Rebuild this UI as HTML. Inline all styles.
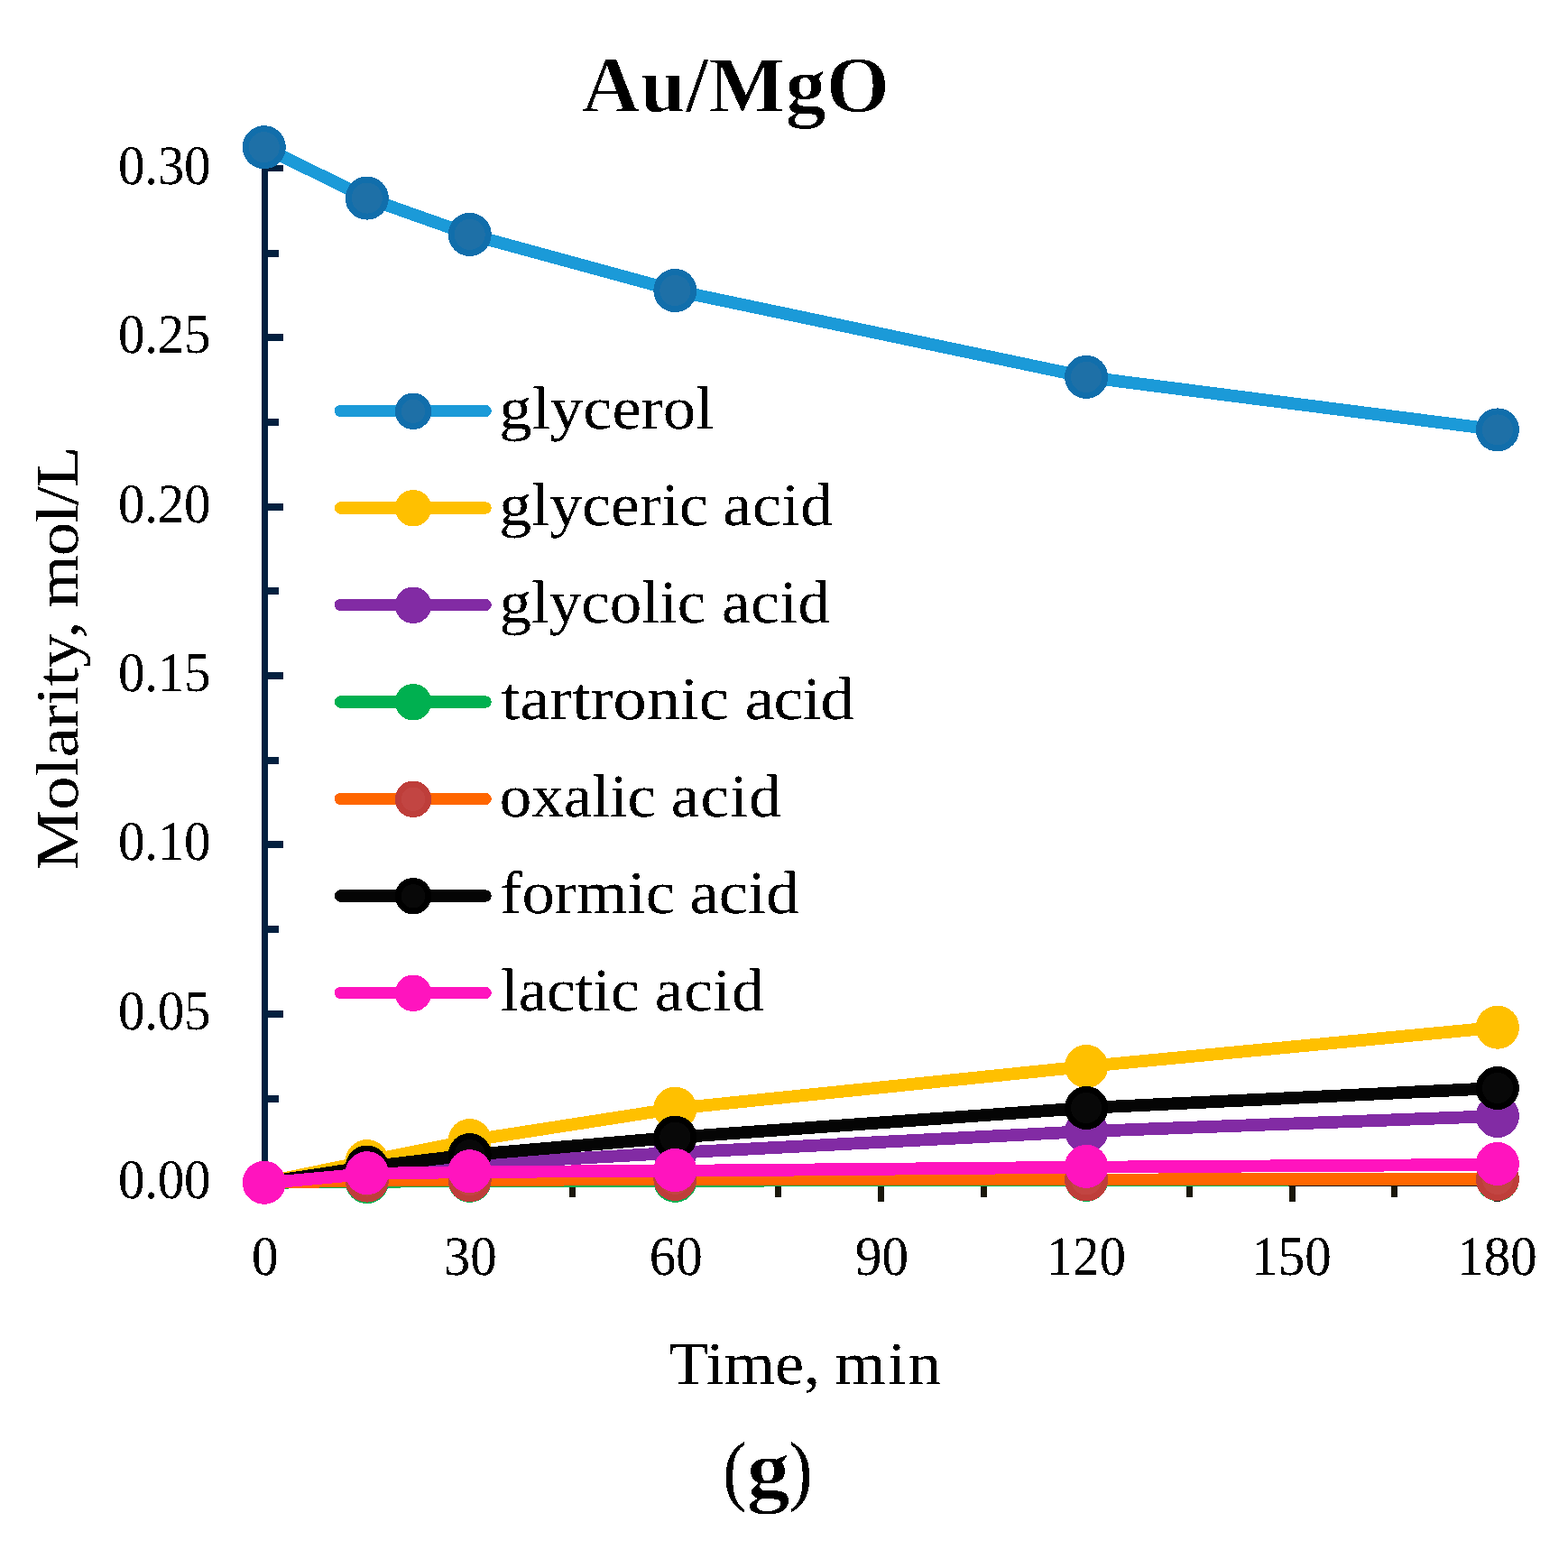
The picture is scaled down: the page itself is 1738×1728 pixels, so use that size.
<!DOCTYPE html>
<html lang="en"><head><meta charset="utf-8"><title>Au/MgO</title>
<style>html,body{margin:0;padding:0;background:#fff;overflow:hidden}svg{display:block}text{font-family:'Liberation Serif', serif;fill:#000;text-rendering:geometricPrecision}</style>
</head><body>
<svg width="1738" height="1728" viewBox="0 0 1738 1728">
<rect width="1738" height="1728" fill="#fff"/>
<defs><filter id="bin" x="0" y="0" width="1738" height="1728" filterUnits="userSpaceOnUse" color-interpolation-filters="sRGB"><feComponentTransfer><feFuncR type="discrete" tableValues="0 0 0 0 0 0 0 0 0 0 0 1 1 1 1 1 1 1 1 1"/><feFuncG type="discrete" tableValues="0 0 0 0 0 0 0 0 0 0 0 1 1 1 1 1 1 1 1 1"/><feFuncB type="discrete" tableValues="0 0 0 0 0 0 0 0 0 0 0 1 1 1 1 1 1 1 1 1"/></feComponentTransfer></filter></defs>
<g id="labels" filter="url(#bin)">
<rect width="1738" height="1728" fill="#fff"/>
<g id="legend-labels">
<text transform="translate(0.00 475.00) scale(0.7266 0.6713)" font-size="100" xml:space="preserve"><tspan x="761.51">glycerol</tspan></text>
<text transform="translate(0.00 582.00) scale(0.7187 0.6713)" font-size="100" xml:space="preserve"><tspan x="769.96">glyceric </tspan><tspan x="1114.96" letter-spacing="1.046">acid</tspan></text>
<text transform="translate(0.00 690.00) scale(0.7104 0.6713)" font-size="100" xml:space="preserve"><tspan x="778.97">glycolic </tspan><tspan x="1126.28" letter-spacing="0.794">acid</tspan></text>
<text transform="translate(0.00 797.00) scale(0.7444 0.6713)" font-size="100" xml:space="preserve"><tspan x="746.41">tartronic </tspan><tspan x="1109.02" letter-spacing="-1.304">acid</tspan></text>
<text transform="translate(0.00 905.00) scale(0.7095 0.6713)" font-size="100" xml:space="preserve"><tspan x="780.49">oxalic </tspan><tspan x="1048.41" letter-spacing="1.711">acid</tspan></text>
<text transform="translate(0.00 1012.00) scale(0.7271 0.6713)" font-size="100" xml:space="preserve"><tspan x="762.27">formic </tspan><tspan x="1051.57" letter-spacing="-0.093">acid</tspan></text>
<text transform="translate(0.00 1120.00) scale(0.7087 0.6713)" font-size="100" xml:space="preserve"><tspan x="783.05">lactic </tspan><tspan x="1024.23" letter-spacing="1.298">acid</tspan></text>
</g>
<text transform="translate(0.00 124.00) scale(0.9035 0.8873)" font-size="100" font-weight="bold" stroke="#fff" stroke-width="1.35" xml:space="preserve"><tspan x="713.45">Au/MgO</tspan></text>
<g id="ytick-labels">
<text transform="translate(0.00 204.00) scale(0.5899 0.6176)" font-size="100" xml:space="preserve"><tspan x="222.07" letter-spacing="-0.452">0.30</tspan></text>
<text transform="translate(0.00 391.00) scale(0.5899 0.6176)" font-size="100" xml:space="preserve"><tspan x="222.07" letter-spacing="-0.369">0.25</tspan></text>
<text transform="translate(0.00 579.00) scale(0.5899 0.6176)" font-size="100" xml:space="preserve"><tspan x="222.07" letter-spacing="-0.452">0.20</tspan></text>
<text transform="translate(0.00 766.00) scale(0.5899 0.6176)" font-size="100" xml:space="preserve"><tspan x="222.07" letter-spacing="-0.369">0.15</tspan></text>
<text transform="translate(0.00 953.00) scale(0.5899 0.6176)" font-size="100" xml:space="preserve"><tspan x="222.07" letter-spacing="-0.452">0.10</tspan></text>
<text transform="translate(0.00 1141.00) scale(0.5899 0.6176)" font-size="100" xml:space="preserve"><tspan x="222.07" letter-spacing="-0.369">0.05</tspan></text>
<text transform="translate(0.00 1328.00) scale(0.5899 0.6176)" font-size="100" xml:space="preserve"><tspan x="222.07" letter-spacing="-0.452">0.00</tspan></text>
</g>
<g id="xtick-labels">
<text transform="translate(0.00 1413.00) scale(0.5899 0.6176)" font-size="100" xml:space="preserve"><tspan x="472.92">0</tspan></text>
<text transform="translate(0.00 1413.00) scale(0.5899 0.6176)" font-size="100" xml:space="preserve"><tspan x="833.70">30</tspan></text>
<text transform="translate(0.00 1413.00) scale(0.5899 0.6176)" font-size="100" xml:space="preserve"><tspan x="1220.24">60</tspan></text>
<text transform="translate(0.00 1413.00) scale(0.5899 0.6176)" font-size="100" xml:space="preserve"><tspan x="1607.02">90</tspan></text>
<text transform="translate(0.00 1413.00) scale(0.5899 0.6176)" font-size="100" xml:space="preserve"><tspan x="1965.55">120</tspan></text>
<text transform="translate(0.00 1413.00) scale(0.5899 0.6176)" font-size="100" xml:space="preserve"><tspan x="2351.83">150</tspan></text>
<text transform="translate(0.00 1413.00) scale(0.5899 0.6176)" font-size="100" xml:space="preserve"><tspan x="2738.12">180</tspan></text>
</g>
<text transform="translate(0.00 1534.00) scale(0.7225 0.6686)" font-size="100" xml:space="preserve"><tspan x="1025.80">Time, </tspan><tspan x="1281.05" letter-spacing="3.447">min</tspan></text>
<text transform="translate(86.00 1000.00) rotate(-90) scale(0.7482 0.6672)" font-size="100" xml:space="preserve"><tspan x="47.79">Molarity, </tspan><tspan x="436.50" letter-spacing="-1.355">mol/L</tspan></text>
<g id="panel-label">
<text transform="translate(801.34 1658) scale(0.7922 0.8652)" font-size="100">(</text>
<text transform="translate(827.77 1659) scale(0.9557 0.9149)" font-size="100" font-weight="bold" stroke="#fff" stroke-width="1.31">g</text>
<text transform="translate(874.13 1658) scale(0.7922 0.8652)" font-size="100">)</text>
</g>
</g>
<g id="axes" shape-rendering="crispEdges">
<rect x="290" y="1308" width="1373" height="7" fill="#1A170B"/>
<rect x="289" y="1315" width="7" height="17" fill="#1A170B"/>
<rect x="403" y="1315" width="7" height="12" fill="#1A170B"/>
<rect x="517" y="1315" width="7" height="17" fill="#1A170B"/>
<rect x="631" y="1315" width="7" height="12" fill="#1A170B"/>
<rect x="745" y="1315" width="7" height="17" fill="#1A170B"/>
<rect x="859" y="1315" width="7" height="12" fill="#1A170B"/>
<rect x="973" y="1315" width="7" height="17" fill="#1A170B"/>
<rect x="1087" y="1315" width="7" height="12" fill="#1A170B"/>
<rect x="1201" y="1315" width="7" height="17" fill="#1A170B"/>
<rect x="1315" y="1315" width="7" height="12" fill="#1A170B"/>
<rect x="1429" y="1315" width="7" height="17" fill="#1A170B"/>
<rect x="1542" y="1315" width="7" height="12" fill="#1A170B"/>
<rect x="1656" y="1315" width="7" height="17" fill="#1A170B"/>
<rect x="290" y="183" width="7" height="1132" fill="#03203F"/>
<rect x="297" y="1307" width="17" height="8" fill="#03203F"/>
<rect x="297" y="1214" width="12" height="8" fill="#03203F"/>
<rect x="297" y="1120" width="17" height="8" fill="#03203F"/>
<rect x="297" y="1026" width="12" height="8" fill="#03203F"/>
<rect x="297" y="932" width="17" height="8" fill="#03203F"/>
<rect x="297" y="839" width="12" height="8" fill="#03203F"/>
<rect x="297" y="745" width="17" height="8" fill="#03203F"/>
<rect x="297" y="651" width="12" height="8" fill="#03203F"/>
<rect x="297" y="558" width="17" height="8" fill="#03203F"/>
<rect x="297" y="464" width="12" height="8" fill="#03203F"/>
<rect x="297" y="370" width="17" height="8" fill="#03203F"/>
<rect x="297" y="277" width="12" height="8" fill="#03203F"/>
<rect x="297" y="183" width="17" height="7" fill="#03203F"/>
</g>
<g id="series" fill="none" stroke-linejoin="round" stroke-linecap="round" shape-rendering="crispEdges">
<polyline points="292.8,163.2 406.8,219.6 520.7,259.9 748.3,322.0 1204.1,417.9 1659.9,476.4" stroke="#1B9AD8" stroke-width="13.8"/>
<circle cx="292.8" cy="163.2" r="20.50" fill="#1E70A7" stroke="#116EAB" stroke-width="7.0"/>
<circle cx="406.8" cy="219.6" r="20.50" fill="#1E70A7" stroke="#116EAB" stroke-width="7.0"/>
<circle cx="520.7" cy="259.9" r="20.50" fill="#1E70A7" stroke="#116EAB" stroke-width="7.0"/>
<circle cx="748.3" cy="322.0" r="20.50" fill="#1E70A7" stroke="#116EAB" stroke-width="7.0"/>
<circle cx="1204.1" cy="417.9" r="20.50" fill="#1E70A7" stroke="#116EAB" stroke-width="7.0"/>
<circle cx="1659.9" cy="476.4" r="20.50" fill="#1E70A7" stroke="#116EAB" stroke-width="7.0"/>
<polyline points="292.8,1310.8 406.8,1287.1 520.7,1264.1 748.3,1228.7 1204.1,1182.0 1659.9,1138.7" stroke="#FFC000" stroke-width="13.8"/>
<circle cx="292.8" cy="1310.8" r="20.50" fill="#FFC000" stroke="#FFC000" stroke-width="7.0"/>
<circle cx="406.8" cy="1287.1" r="20.50" fill="#FFC000" stroke="#FFC000" stroke-width="7.0"/>
<circle cx="520.7" cy="1264.1" r="20.50" fill="#FFC000" stroke="#FFC000" stroke-width="7.0"/>
<circle cx="748.3" cy="1228.7" r="20.50" fill="#FFC000" stroke="#FFC000" stroke-width="7.0"/>
<circle cx="1204.1" cy="1182.0" r="20.50" fill="#FFC000" stroke="#FFC000" stroke-width="7.0"/>
<circle cx="1659.9" cy="1138.7" r="20.50" fill="#FFC000" stroke="#FFC000" stroke-width="7.0"/>
<polyline points="292.8,1310.8 406.8,1297.5 520.7,1290.5 748.3,1277.8 1204.1,1254.0 1659.9,1237.0" stroke="#822BA4" stroke-width="13.8"/>
<circle cx="292.8" cy="1310.8" r="20.50" fill="#822BA4" stroke="#822BA4" stroke-width="7.0"/>
<circle cx="406.8" cy="1297.5" r="20.50" fill="#822BA4" stroke="#822BA4" stroke-width="7.0"/>
<circle cx="520.7" cy="1290.5" r="20.50" fill="#822BA4" stroke="#822BA4" stroke-width="7.0"/>
<circle cx="748.3" cy="1277.8" r="20.50" fill="#822BA4" stroke="#822BA4" stroke-width="7.0"/>
<circle cx="1204.1" cy="1254.0" r="20.50" fill="#822BA4" stroke="#822BA4" stroke-width="7.0"/>
<circle cx="1659.9" cy="1237.0" r="20.50" fill="#822BA4" stroke="#822BA4" stroke-width="7.0"/>
<polyline points="292.8,1310.8 406.8,1310.0 520.7,1308.8 748.3,1308.8 1204.1,1307.9 1659.9,1307.3" stroke="#00B050" stroke-width="13.8"/>
<circle cx="292.8" cy="1310.8" r="20.50" fill="#00B050" stroke="#00B050" stroke-width="7.0"/>
<circle cx="406.8" cy="1310.0" r="20.50" fill="#00B050" stroke="#00B050" stroke-width="7.0"/>
<circle cx="520.7" cy="1308.8" r="20.50" fill="#00B050" stroke="#00B050" stroke-width="7.0"/>
<circle cx="748.3" cy="1308.8" r="20.50" fill="#00B050" stroke="#00B050" stroke-width="7.0"/>
<circle cx="1204.1" cy="1307.9" r="20.50" fill="#00B050" stroke="#00B050" stroke-width="7.0"/>
<circle cx="1659.9" cy="1307.3" r="20.50" fill="#00B050" stroke="#00B050" stroke-width="7.0"/>
<polyline points="292.8,1310.8 406.8,1308.6 520.7,1308.2 748.3,1306.9 1204.1,1307.5 1659.9,1307.0" stroke="#FF6600" stroke-width="13.8"/>
<circle cx="292.8" cy="1310.8" r="20.50" fill="#C24542" stroke="#BE3E3A" stroke-width="7.0"/>
<circle cx="406.8" cy="1308.6" r="20.50" fill="#C24542" stroke="#BE3E3A" stroke-width="7.0"/>
<circle cx="520.7" cy="1308.2" r="20.50" fill="#C24542" stroke="#BE3E3A" stroke-width="7.0"/>
<circle cx="748.3" cy="1306.9" r="20.50" fill="#C24542" stroke="#BE3E3A" stroke-width="7.0"/>
<circle cx="1204.1" cy="1307.5" r="20.50" fill="#C24542" stroke="#BE3E3A" stroke-width="7.0"/>
<circle cx="1659.9" cy="1307.0" r="20.50" fill="#C24542" stroke="#BE3E3A" stroke-width="7.0"/>
<polyline points="292.8,1310.8 406.8,1293.6 520.7,1280.1 748.3,1260.7 1204.1,1228.0 1659.9,1206.0" stroke="#050505" stroke-width="13.8"/>
<circle cx="292.8" cy="1310.8" r="20.50" fill="#080808" stroke="#000000" stroke-width="7.0"/>
<circle cx="406.8" cy="1293.6" r="20.50" fill="#080808" stroke="#000000" stroke-width="7.0"/>
<circle cx="520.7" cy="1280.1" r="20.50" fill="#080808" stroke="#000000" stroke-width="7.0"/>
<circle cx="748.3" cy="1260.7" r="20.50" fill="#080808" stroke="#000000" stroke-width="7.0"/>
<circle cx="1204.1" cy="1228.0" r="20.50" fill="#080808" stroke="#000000" stroke-width="7.0"/>
<circle cx="1659.9" cy="1206.0" r="20.50" fill="#080808" stroke="#000000" stroke-width="7.0"/>
<polyline points="292.8,1311.5 406.8,1301.0 520.7,1299.0 748.3,1297.8 1204.1,1293.7 1659.9,1290.8" stroke="#FF14BE" stroke-width="13.8"/>
<circle cx="292.8" cy="1310.8" r="20.50" fill="#FF14BE" stroke="#FF14BE" stroke-width="7.0"/>
<circle cx="406.8" cy="1300.2" r="20.50" fill="#FF14BE" stroke="#FF14BE" stroke-width="7.0"/>
<circle cx="520.7" cy="1298.2" r="20.50" fill="#FF14BE" stroke="#FF14BE" stroke-width="7.0"/>
<circle cx="748.3" cy="1297.0" r="20.50" fill="#FF14BE" stroke="#FF14BE" stroke-width="7.0"/>
<circle cx="1204.1" cy="1292.9" r="20.50" fill="#FF14BE" stroke="#FF14BE" stroke-width="7.0"/>
<circle cx="1659.9" cy="1290.0" r="20.50" fill="#FF14BE" stroke="#FF14BE" stroke-width="7.0"/>
</g>
<g id="legend" shape-rendering="crispEdges">
<line x1="377.5" y1="455.50" x2="538.0" y2="455.50" stroke="#1B9AD8" stroke-width="13.5" stroke-linecap="round"/>
<circle cx="458.0" cy="455.75" r="16.70" fill="#1E70A7" stroke="#116EAB" stroke-width="7.0"/>
<line x1="377.5" y1="563.00" x2="538.0" y2="563.00" stroke="#FFC000" stroke-width="13.5" stroke-linecap="round"/>
<circle cx="458.0" cy="563.25" r="16.70" fill="#FFC000" stroke="#FFC000" stroke-width="7.0"/>
<line x1="377.5" y1="670.50" x2="538.0" y2="670.50" stroke="#822BA4" stroke-width="13.5" stroke-linecap="round"/>
<circle cx="458.0" cy="670.75" r="16.70" fill="#822BA4" stroke="#822BA4" stroke-width="7.0"/>
<line x1="377.5" y1="778.00" x2="538.0" y2="778.00" stroke="#00B050" stroke-width="13.5" stroke-linecap="round"/>
<circle cx="458.0" cy="778.25" r="16.70" fill="#00B050" stroke="#00B050" stroke-width="7.0"/>
<line x1="377.5" y1="885.50" x2="538.0" y2="885.50" stroke="#FF6600" stroke-width="13.5" stroke-linecap="round"/>
<circle cx="458.0" cy="885.75" r="16.70" fill="#C24542" stroke="#BE3E3A" stroke-width="7.0"/>
<line x1="377.5" y1="993.00" x2="538.0" y2="993.00" stroke="#050505" stroke-width="13.5" stroke-linecap="round"/>
<circle cx="458.0" cy="993.25" r="16.70" fill="#080808" stroke="#000000" stroke-width="7.0"/>
<line x1="377.5" y1="1100.50" x2="538.0" y2="1100.50" stroke="#FF14BE" stroke-width="13.5" stroke-linecap="round"/>
<circle cx="458.0" cy="1100.75" r="16.70" fill="#FF14BE" stroke="#FF14BE" stroke-width="7.0"/>
</g>
</svg>
</body></html>
